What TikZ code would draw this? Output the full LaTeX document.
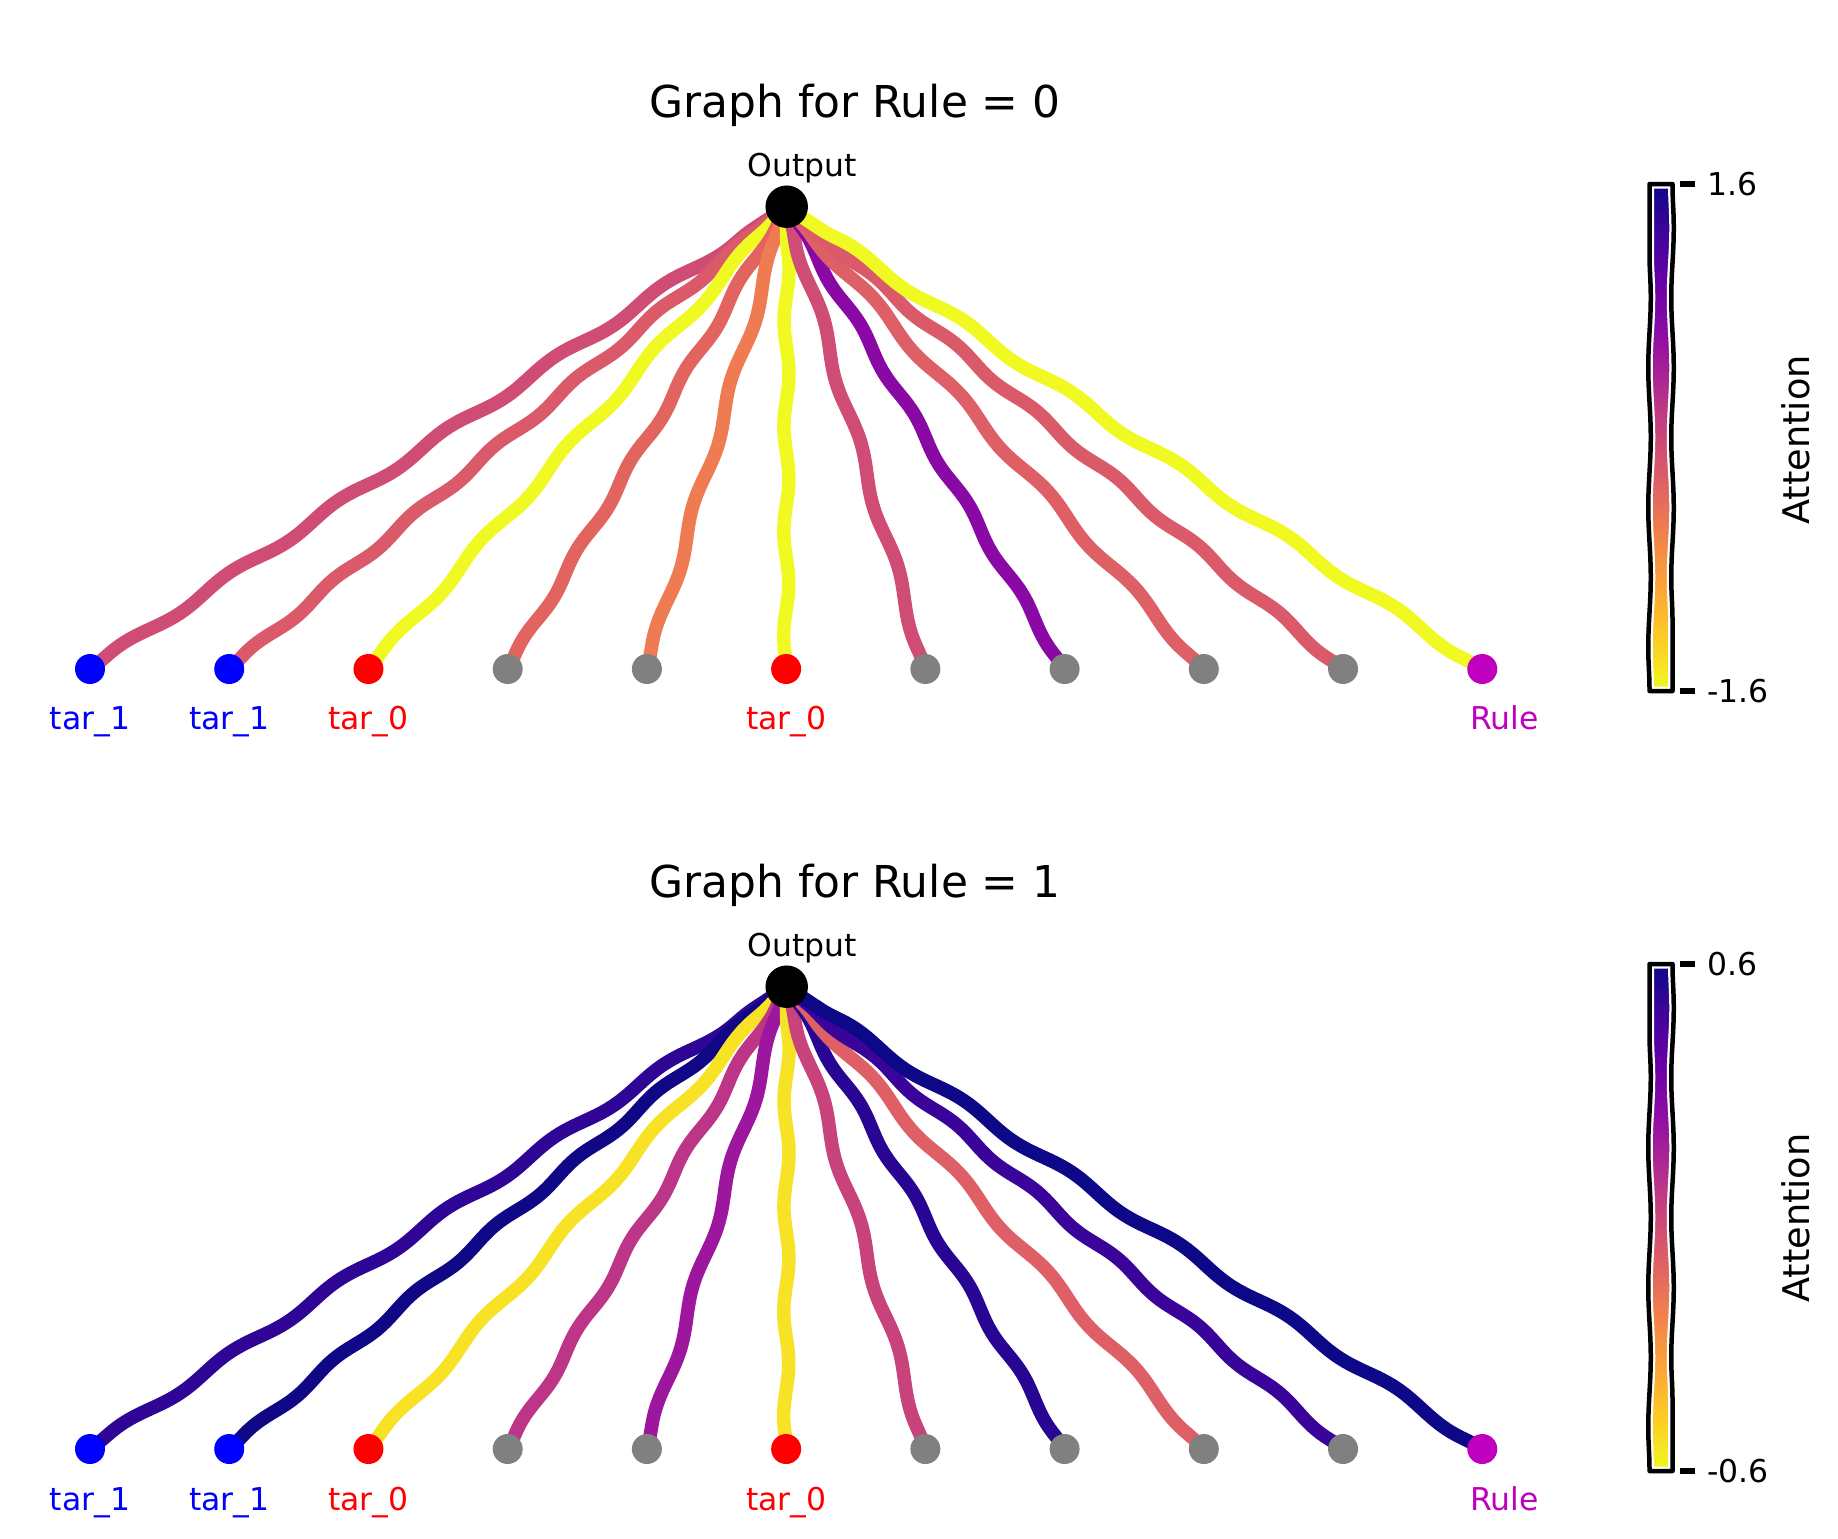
\documentclass[tikz,border=0pt]{standalone}
\usepackage{fontspec}
\setmainfont{DejaVu Sans}
\usepackage{xcolor}
\usetikzlibrary{positioning,decorations.pathmorphing,backgrounds}

% plasma colour map
\definecolor{pl0}{HTML}{0D0887}
\definecolor{pl1}{HTML}{41049D}
\definecolor{pl2}{HTML}{6A00A8}
\definecolor{pl3}{HTML}{8F0DA4}
\definecolor{pl4}{HTML}{B12A90}
\definecolor{pl5}{HTML}{CC4778}
\definecolor{pl6}{HTML}{E16462}
\definecolor{pl7}{HTML}{F2844B}
\definecolor{pl8}{HTML}{FCA636}
\definecolor{pl9}{HTML}{FCCE25}
\definecolor{pl10}{HTML}{F0F921}
\pgfdeclareverticalshading{plasmabar}{100bp}{color(0bp)=(pl10); color(25bp)=(pl10);
  color(30bp)=(pl9); color(35bp)=(pl8); color(40bp)=(pl7); color(45bp)=(pl6);
  color(50bp)=(pl5); color(55bp)=(pl4); color(60bp)=(pl3); color(65bp)=(pl2);
  color(70bp)=(pl1); color(75bp)=(pl0); color(100bp)=(pl0)}

% attention colours, rule 0
\definecolor{ra1}{HTML}{CF4C74}
\definecolor{ra2}{HTML}{DA5A6A}
\definecolor{ra3}{HTML}{F0F921}
\definecolor{ra4}{HTML}{E1645F}
\definecolor{ra5}{HTML}{EE7B51}
\definecolor{ra6}{HTML}{F0F921}
\definecolor{ra7}{HTML}{CF4C74}
\definecolor{ra8}{HTML}{8A09A5}
\definecolor{ra9}{HTML}{DE5F65}
\definecolor{ra10}{HTML}{DA5A6A}
\definecolor{ra11}{HTML}{F0F921}
% attention colours, rule 1
\definecolor{rb1}{HTML}{2F0596}
\definecolor{rb2}{HTML}{100787}
\definecolor{rb3}{HTML}{F7E225}
\definecolor{rb4}{HTML}{BC3587}
\definecolor{rb5}{HTML}{9C179E}
\definecolor{rb6}{HTML}{F7E225}
\definecolor{rb7}{HTML}{C8437B}
\definecolor{rb8}{HTML}{280592}
\definecolor{rb9}{HTML}{DE5F65}
\definecolor{rb10}{HTML}{3A049A}
\definecolor{rb11}{HTML}{0D0887}
\definecolor{magm}{HTML}{BF00BF}

\begin{document}
\begin{tikzpicture}[
  x=0.02cm, y=-0.02cm,
  node distance=2.171cm,
  leaf/.style={circle, inner sep=0pt, minimum size=0.6cm},
  outnode/.style={circle, fill=black, inner sep=0pt, minimum size=0.85cm},
  lab/.style={font=\fontsize{17.9}{20}\selectfont, anchor=base},
  ttl/.style={font=\fontsize{25}{28}\selectfont, anchor=base},
  link/.style={line width=0.27cm, draw=#1, decorate, decoration={snake, amplitude=0.065cm, segment length=2.6cm}},
  linkb/.style={link=#1, decoration={snake, amplitude=0.05cm, segment length=2.1cm}},
  wob/.style={decoration={snake, amplitude=0.025cm, segment length=2.8cm}},
  cbhalo/.style={white, line width=0.18cm, line join=round},
  cbline/.style={black, line width=0.09cm, line join=round},
  tick/.style={line width=0.13cm}
]
\useasboundingbox (0,0) rectangle (1838,1538);

% Rule = 0
\node[ttl] (t0) at (855,117) {Graph for Rule = 0};
\node[outnode] (oa) at (786.7,206.7) {};
\node[lab, above=0.614cm of oa.center, anchor=base, xshift=0.31cm] {Output};

\node[leaf, fill=blue] (a1) at (90,669) {};
\node[leaf, fill=blue, right=of a1] (a2) {};
\node[leaf, fill=red, right=of a2] (a3) {};
\node[leaf, fill=gray, right=of a3] (a4) {};
\node[leaf, fill=gray, right=of a4] (a5) {};
\node[leaf, fill=red, right=of a5] (a6) {};
\node[leaf, fill=gray, right=of a6] (a7) {};
\node[leaf, fill=gray, right=of a7] (a8) {};
\node[leaf, fill=gray, right=of a8] (a9) {};
\node[leaf, fill=gray, right=of a9] (a10) {};
\node[leaf, fill=magm, right=of a10] (a11) {};

\node[lab, blue, below=1.22cm of a1.center, anchor=base] {tar\_1};
\node[lab, blue, below=1.22cm of a2.center, anchor=base] {tar\_1};
\node[lab, red, below=1.22cm of a3.center, anchor=base] {tar\_0};
\node[lab, red, below=1.22cm of a6.center, anchor=base] {tar\_0};
\node[lab, magm, below=1.22cm of a11.center, anchor=base, xshift=0.44cm] {Rule};

\begin{pgfonlayer}{background}
\draw[link=ra1] (a1.center) -- (oa.center);
\draw[linkb=ra2] (a2.center) -- (oa.center);
\draw[link=ra3] (a3.center) -- (oa.center);
\draw[linkb=ra4] (a4.center) -- (oa.center);
\draw[link=ra5] (a5.center) -- (oa.center);
\draw[linkb=ra6] (a6.center) -- (oa.center);
\draw[link=ra7] (a7.center) -- (oa.center);
\draw[linkb=ra8] (a8.center) -- (oa.center);
\draw[link=ra9] (a9.center) -- (oa.center);
\draw[linkb=ra10] (a10.center) -- (oa.center);
\draw[link=ra11] (a11.center) -- (oa.center);
\end{pgfonlayer}

% colour bar, rule 0
\shade[shading=plasmabar] (1649.5,184) rectangle (1672.5,691);
\draw[cbhalo, wob] (1649.5,184) -- (1672.5,184) decorate {-- (1672.5,691)} -- (1649.5,691) decorate {-- (1649.5,184)} -- cycle;
\draw[cbline, wob] (1649.5,184) -- (1672.5,184) decorate {-- (1672.5,691)} -- (1649.5,691) decorate {-- (1649.5,184)} -- cycle;
\draw[tick] (1680,184) -- (1695,184);
\draw[tick] (1680,691) -- (1695,691);
\node[lab, anchor=west] at (1701,184) {1.6};
\node[lab, anchor=west] at (1701,691) {-1.6};
\node[font=\fontsize{20.9}{24}\selectfont, rotate=90] at (1796,440) {Attention};

% Rule = 1
\node[ttl] (t1) at (855,897) {Graph for Rule = 1};
\node[outnode] (ob) at (786.7,986.7) {};
\node[lab, above=0.614cm of ob.center, anchor=base, xshift=0.31cm] {Output};

\node[leaf, fill=blue] (b1) at (90,1449) {};
\node[leaf, fill=blue, right=of b1] (b2) {};
\node[leaf, fill=red, right=of b2] (b3) {};
\node[leaf, fill=gray, right=of b3] (b4) {};
\node[leaf, fill=gray, right=of b4] (b5) {};
\node[leaf, fill=red, right=of b5] (b6) {};
\node[leaf, fill=gray, right=of b6] (b7) {};
\node[leaf, fill=gray, right=of b7] (b8) {};
\node[leaf, fill=gray, right=of b8] (b9) {};
\node[leaf, fill=gray, right=of b9] (b10) {};
\node[leaf, fill=magm, right=of b10] (b11) {};

\node[lab, blue, below=1.22cm of b1.center, anchor=base] {tar\_1};
\node[lab, blue, below=1.22cm of b2.center, anchor=base] {tar\_1};
\node[lab, red, below=1.22cm of b3.center, anchor=base] {tar\_0};
\node[lab, red, below=1.22cm of b6.center, anchor=base] {tar\_0};
\node[lab, magm, below=1.22cm of b11.center, anchor=base, xshift=0.44cm] {Rule};

\begin{pgfonlayer}{background}
\draw[link=rb1] (b1.center) -- (ob.center);
\draw[linkb=rb2] (b2.center) -- (ob.center);
\draw[link=rb3] (b3.center) -- (ob.center);
\draw[linkb=rb4] (b4.center) -- (ob.center);
\draw[link=rb5] (b5.center) -- (ob.center);
\draw[linkb=rb6] (b6.center) -- (ob.center);
\draw[link=rb7] (b7.center) -- (ob.center);
\draw[linkb=rb8] (b8.center) -- (ob.center);
\draw[link=rb9] (b9.center) -- (ob.center);
\draw[linkb=rb10] (b10.center) -- (ob.center);
\draw[link=rb11] (b11.center) -- (ob.center);
\end{pgfonlayer}

% colour bar, rule 1
\shade[shading=plasmabar] (1649.5,964) rectangle (1672.5,1471);
\draw[cbhalo, wob] (1649.5,964) -- (1672.5,964) decorate {-- (1672.5,1471)} -- (1649.5,1471) decorate {-- (1649.5,964)} -- cycle;
\draw[cbline, wob] (1649.5,964) -- (1672.5,964) decorate {-- (1672.5,1471)} -- (1649.5,1471) decorate {-- (1649.5,964)} -- cycle;
\draw[tick] (1680,964) -- (1695,964);
\draw[tick] (1680,1471) -- (1695,1471);
\node[lab, anchor=west] at (1701,964) {0.6};
\node[lab, anchor=west] at (1701,1471) {-0.6};
\node[font=\fontsize{20.9}{24}\selectfont, rotate=90] at (1796,1218) {Attention};

\end{tikzpicture}
\end{document}
